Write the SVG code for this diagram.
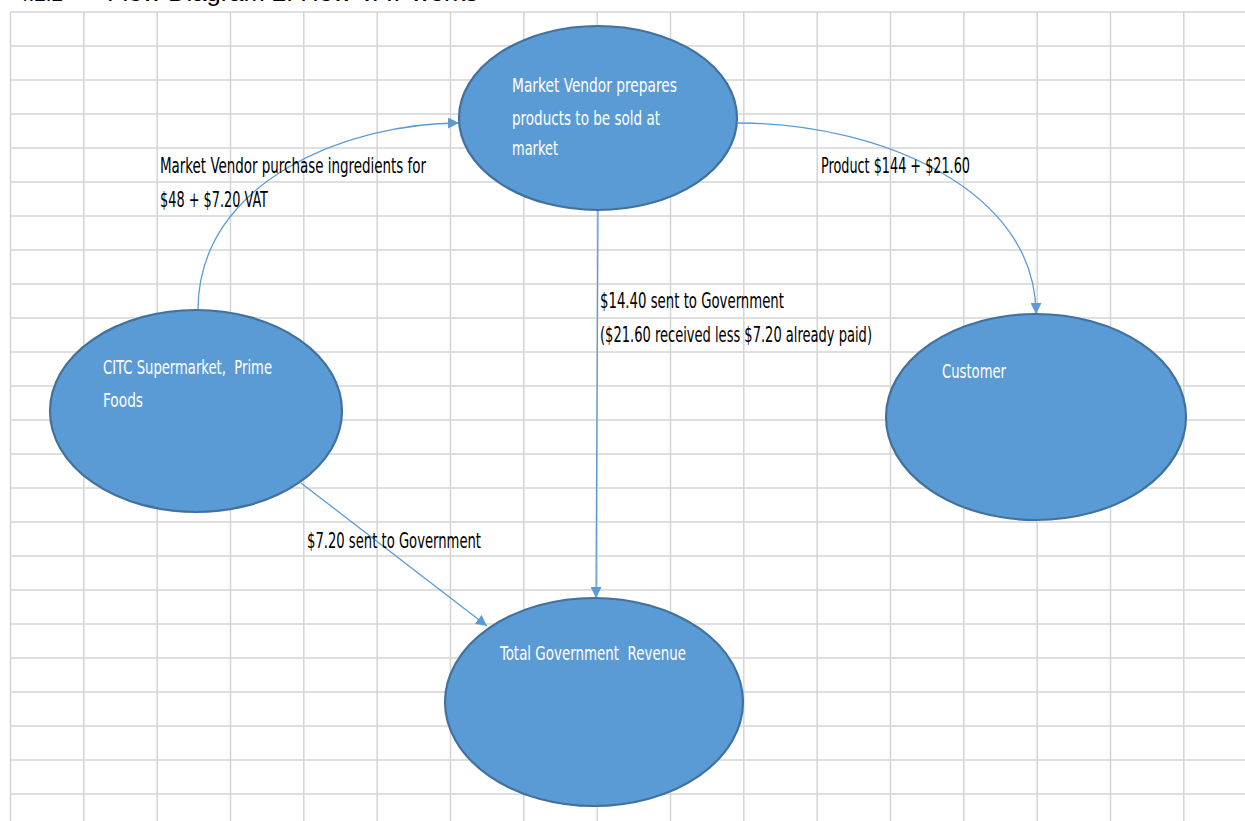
<svg xmlns="http://www.w3.org/2000/svg" width="1245" height="821" viewBox="0 0 1245 821">
  <style>
    .grid line { stroke: #D4D4D4; stroke-width: 1.5; }
    .node ellipse { fill: #5B9BD5; stroke: #41719C; stroke-width: 2.2; }
    .ntext { font-family: "Liberation Sans Narrow", "DejaVu Sans Condensed", "Liberation Sans", sans-serif; font-size: 20px; fill: #FFFFFF; white-space: pre; }
    .label { font-family: "Liberation Sans Narrow", "DejaVu Sans Condensed", "Liberation Sans", sans-serif; font-size: 20.5px; fill: #000000; }
    .title { font-family: "Liberation Sans", Arial, sans-serif; font-size: 24px; fill: #000000; }
    .conn path { fill: none; stroke: #5B9BD5; stroke-width: 1.3; marker-end: url(#arrow); }
  </style>
  <defs>
    <marker id="arrow" viewBox="0 0 10 10" refX="10" refY="5" markerWidth="11" markerHeight="11" markerUnits="userSpaceOnUse" orient="auto">
      <path d="M0,0 L10,5 L0,10 z" fill="#5B9BD5"/>
    </marker>
  </defs>
  <rect x="0" y="0" width="1245" height="821" fill="#FFFFFF"/>
  <text class="title" x="17" y="0.5" textLength="46" lengthAdjust="spacingAndGlyphs">4.2.2</text>
  <text class="title" x="107" y="0.5" textLength="371" lengthAdjust="spacingAndGlyphs">Flow Diagram 2: How VAT works</text>
  <g class="grid" id="grid">
    <line x1="10.5" y1="12" x2="10.5" y2="821"/>
    <line x1="83.8" y1="12" x2="83.8" y2="821"/>
    <line x1="157.2" y1="12" x2="157.2" y2="821"/>
    <line x1="230.5" y1="12" x2="230.5" y2="821"/>
    <line x1="303.8" y1="12" x2="303.8" y2="821"/>
    <line x1="377.2" y1="12" x2="377.2" y2="821"/>
    <line x1="450.5" y1="12" x2="450.5" y2="821"/>
    <line x1="523.8" y1="12" x2="523.8" y2="821"/>
    <line x1="597.2" y1="12" x2="597.2" y2="821"/>
    <line x1="670.5" y1="12" x2="670.5" y2="821"/>
    <line x1="743.8" y1="12" x2="743.8" y2="821"/>
    <line x1="817.2" y1="12" x2="817.2" y2="821"/>
    <line x1="890.5" y1="12" x2="890.5" y2="821"/>
    <line x1="963.8" y1="12" x2="963.8" y2="821"/>
    <line x1="1037.2" y1="12" x2="1037.2" y2="821"/>
    <line x1="1110.5" y1="12" x2="1110.5" y2="821"/>
    <line x1="1183.8" y1="12" x2="1183.8" y2="821"/>
    <line x1="10.5" y1="12" x2="1245" y2="12"/>
    <line x1="10.5" y1="46" x2="1245" y2="46"/>
    <line x1="10.5" y1="80" x2="1245" y2="80"/>
    <line x1="10.5" y1="114" x2="1245" y2="114"/>
    <line x1="10.5" y1="148" x2="1245" y2="148"/>
    <line x1="10.5" y1="182" x2="1245" y2="182"/>
    <line x1="10.5" y1="216" x2="1245" y2="216"/>
    <line x1="10.5" y1="250" x2="1245" y2="250"/>
    <line x1="10.5" y1="284" x2="1245" y2="284"/>
    <line x1="10.5" y1="318" x2="1245" y2="318"/>
    <line x1="10.5" y1="352" x2="1245" y2="352"/>
    <line x1="10.5" y1="386" x2="1245" y2="386"/>
    <line x1="10.5" y1="420" x2="1245" y2="420"/>
    <line x1="10.5" y1="454" x2="1245" y2="454"/>
    <line x1="10.5" y1="488" x2="1245" y2="488"/>
    <line x1="10.5" y1="522" x2="1245" y2="522"/>
    <line x1="10.5" y1="556" x2="1245" y2="556"/>
    <line x1="10.5" y1="590" x2="1245" y2="590"/>
    <line x1="10.5" y1="624" x2="1245" y2="624"/>
    <line x1="10.5" y1="658" x2="1245" y2="658"/>
    <line x1="10.5" y1="692" x2="1245" y2="692"/>
    <line x1="10.5" y1="726" x2="1245" y2="726"/>
    <line x1="10.5" y1="760" x2="1245" y2="760"/>
    <line x1="10.5" y1="794" x2="1245" y2="794"/>
  </g>
  <g class="conn" id="connectors">
    <path d="M198,310 C198,180 350,123 459,123"/>
    <path d="M738,123 C880,123 1036,190 1036,314"/>
    <path d="M598,210 L596,598"/>
    <path d="M301,483 L487,626"/>
  </g>
  <g id="labels">
    <text class="label" x="160" y="173" textLength="266" lengthAdjust="spacingAndGlyphs">Market Vendor purchase ingredients for</text>
    <text class="label" x="160" y="207" textLength="108" lengthAdjust="spacingAndGlyphs">$48 + $7.20 VAT</text>
    <text class="label" x="821" y="173" textLength="149" lengthAdjust="spacingAndGlyphs">Product $144 + $21.60</text>
    <text class="label" x="600" y="308" textLength="184" lengthAdjust="spacingAndGlyphs">$14.40 sent to Government</text>
    <text class="label" x="600" y="342" textLength="272" lengthAdjust="spacingAndGlyphs">($21.60 received less $7.20 already paid)</text>
    <text class="label" x="307" y="548" textLength="174" lengthAdjust="spacingAndGlyphs">$7.20 sent to Government</text>
  </g>
  <g class="node" id="node-vendor">
    <ellipse cx="598" cy="118" rx="139" ry="92"/>
    <text class="ntext" x="512" y="92" textLength="165" lengthAdjust="spacingAndGlyphs">Market Vendor prepares</text>
    <text class="ntext" x="512" y="125" textLength="148" lengthAdjust="spacingAndGlyphs">products to be sold at</text>
    <text class="ntext" x="512" y="155" textLength="46" lengthAdjust="spacingAndGlyphs">market</text>
  </g>
  <g class="node" id="node-citc">
    <ellipse cx="196" cy="411" rx="146" ry="101"/>
    <text class="ntext" x="103" y="374" textLength="169" lengthAdjust="spacingAndGlyphs" xml:space="preserve">CITC Supermarket,  Prime</text>
    <text class="ntext" x="103" y="407" textLength="40" lengthAdjust="spacingAndGlyphs">Foods</text>
  </g>
  <g class="node" id="node-customer">
    <ellipse cx="1036" cy="417" rx="150" ry="103"/>
    <text class="ntext" x="942" y="378" textLength="64" lengthAdjust="spacingAndGlyphs">Customer</text>
  </g>
  <g class="node" id="node-government">
    <ellipse cx="594" cy="702" rx="149" ry="104"/>
    <text class="ntext" x="500" y="660" textLength="186" lengthAdjust="spacingAndGlyphs" xml:space="preserve">Total Government  Revenue</text>
  </g>
</svg>
